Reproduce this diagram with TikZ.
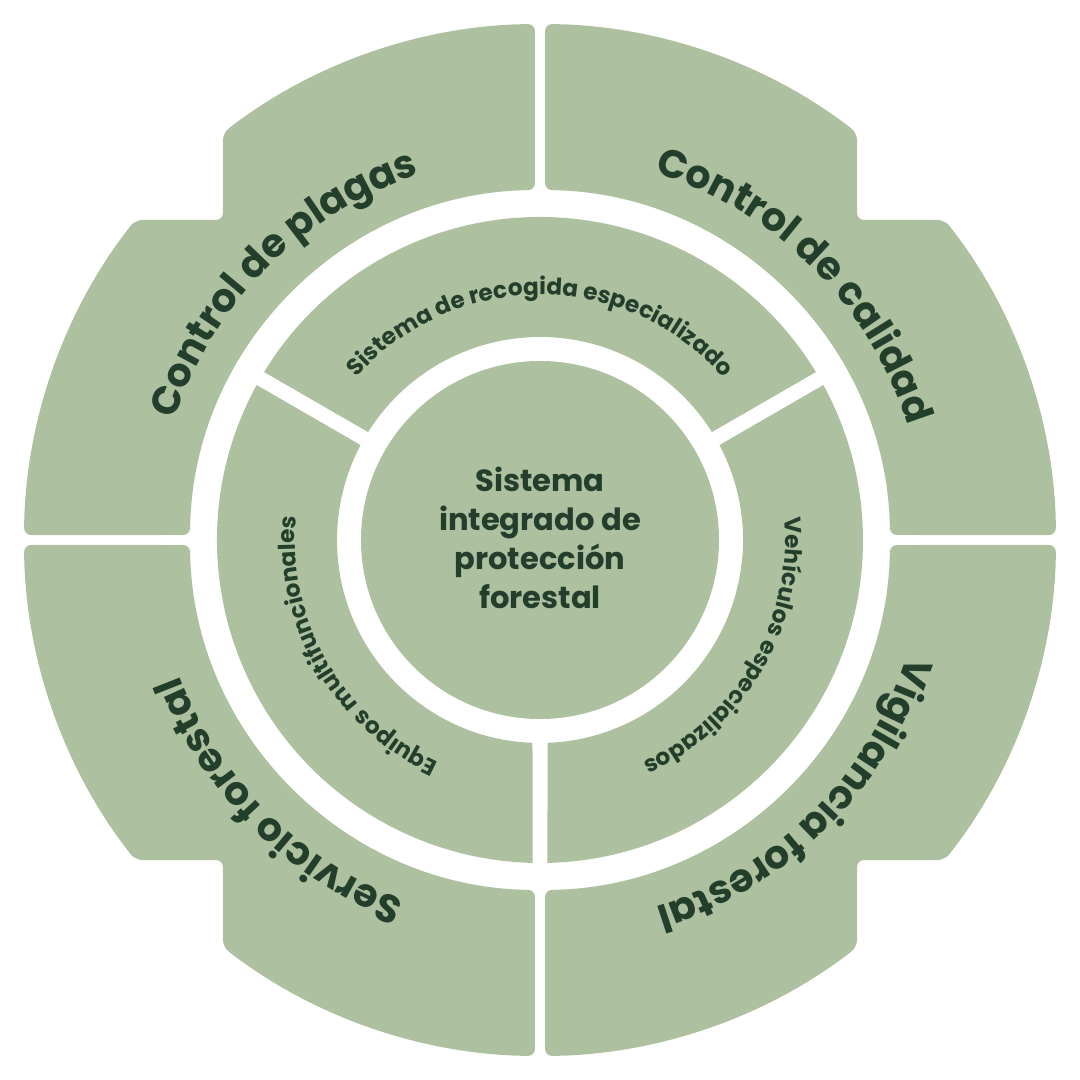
\documentclass[tikz,border=0pt]{standalone}
\usepackage{fontspec}
\setmainfont{Poppins}
\usetikzlibrary{decorations.text}
\definecolor{leaf}{RGB}{173,192,159}
\definecolor{leafdark}{RGB}{35,62,43}
\newcommand{\bigringfont}{\bfseries\fontsize{11.2}{13}\selectfont}
\newcommand{\smallringfont}{\bfseries\fontsize{6.6}{8}\selectfont}
\tikzset{
  quadrant/.style={fill=leaf, rounded corners=0.07cm},
  segment/.style={fill=leaf},
  bigtext/.style={decorate, decoration={text along path, text align=center,
    text color=leafdark, text={|\bigringfont|#1}}},
  smalltext/.style={decorate, decoration={text along path, text align=center,
    text color=leafdark, text={|\smallringfont|#1}}},
}

\begin{document}
\begin{tikzpicture}
    \useasboundingbox (-5.4,-5.4) rectangle (5.4,5.4);
    % outer ring, four notched quarters
    \foreach \sx/\sy in {1/1,-1/1,-1/-1,1/-1}
      \fill[quadrant, xscale=\sx, yscale=\sy] (89.44:5.16)
        arc[start angle=89.44, end angle=52.09, radius=5.16] -- (3.17,3.2)
        -- (38.33:5.16) arc[start angle=38.33, end angle=0.55, radius=5.16]
        -- (0.82:3.5) arc[start angle=0.82, end angle=89.18, radius=3.5] -- cycle;
    % middle ring, three parts
    \foreach \c in {90,210,330}
      \fill[segment] ({\c-58.67}:3.23) arc[start angle={\c-58.67}, end angle={\c+58.67}, radius=3.23]
        -- ({\c+57.88}:2.03) arc[start angle={\c+57.88}, end angle={\c-57.88}, radius=2.03] -- cycle;
    \fill[leaf] (0,0) circle[radius=1.79];
    \node[align=center, text=leafdark, font=\bfseries\fontsize{8.7}{11.1}\selectfont] (core) at (0,0.02)
      {Sistema\\integrado de\\protección\\forestal};
    % labels along the rings
    \path[bigtext={Control de plagas}] (175:3.85) arc[start angle=175, end angle=95, radius=3.85];
    \path[bigtext={Control de calidad}] (85:3.85) arc[start angle=85, end angle=5, radius=3.85];
    \path[bigtext={Vigilancia forestal}] (-5:3.85) arc[start angle=-5, end angle=-85, radius=3.85];
    \path[bigtext={Servicio forestal}] (-95:3.85) arc[start angle=-95, end angle=-175, radius=3.85];
    \path[smalltext={Sistema de recogida especializado}] (148:2.45) arc[start angle=148, end angle=32, radius=2.45];
    \path[smalltext={Equipos multifuncionales}] (268:2.45) arc[start angle=268, end angle=152, radius=2.45];
    \path[smalltext={Vehículos especializados}] (28:2.45) arc[start angle=28, end angle=-88, radius=2.45];
  \end{tikzpicture}
\end{document}
